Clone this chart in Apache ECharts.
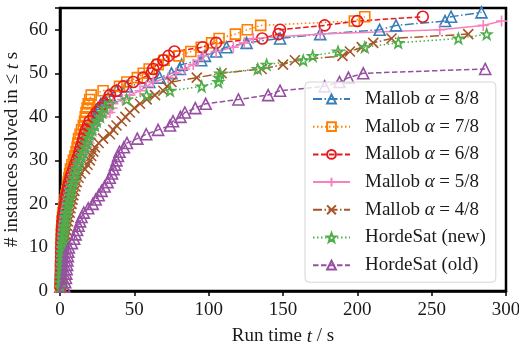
<!DOCTYPE html>
<html>
<head>
<meta charset="utf-8">
<script src="https://cdn.jsdelivr.net/npm/echarts@6/dist/echarts.min.js"></script>
<style>
  html, body { margin: 0; padding: 0; background: #fff; }
  #chart { width: 519px; height: 347px; }
</style>
</head>
<body>
<div id="chart"></div>
<script>
// run times (s) of the solved instances, sorted; the k-th value is solved instance number k
const mallob88 = [0.3, 0.4, 0.5, 0.6, 0.6, 0.7, 0.8, 0.8, 0.9, 1.0,
  1.1, 1.2, 1.3, 1.5, 1.7, 2.0, 2.3, 2.7, 3.2, 3.7,
  4.3, 5.0, 5.6, 6.3, 7.0, 7.8, 8.6, 9.5, 10.5, 11.5,
  12.5, 13.5, 14.5, 15.5, 16.5, 17.5, 18.5, 19.5, 20.5, 22.0,
  23.5, 25.5, 27.5, 30.0, 33.6, 38.0, 45.0, 60.0, 67.0, 75.0,
  80.7, 81.8, 95.0, 97.5, 105.0, 112.0, 125.5, 148.0, 175.0, 215.0, 226.0, 259.0, 263.0, 283.5]
const mallob78 = [0.3, 0.4, 0.5, 0.5, 0.6, 0.6, 0.7, 0.7, 0.8, 0.8,
  0.9, 1.0, 1.0, 1.1, 1.2, 1.4, 1.7, 2.0, 2.5, 3.0,
  3.5, 4.0, 4.5, 5.0, 5.5, 6.0, 6.5, 7.0, 8.0, 9.0,
  10.0, 10.8, 11.5, 12.0, 12.5, 13.5, 14.5, 15.7, 16.5, 17.0,
  17.5, 18.2, 19.0, 20.0, 21.0, 29.0, 40.0, 45.0, 52.0, 56.0,
  60.0, 66.0, 70.0, 80.0, 88.0, 95.0, 102.0, 107.0, 118.0, 126.0, 135.0, 198.0, 205.0]
const mallob68 = [0.3, 0.4, 0.5, 0.5, 0.6, 0.6, 0.7, 0.8, 0.8, 0.9,
  1.0, 1.1, 1.2, 1.3, 1.5, 1.7, 2.0, 2.4, 2.8, 3.3,
  3.8, 4.3, 5.0, 5.5, 6.2, 7.0, 8.0, 9.0, 10.0, 11.2,
  12.3, 13.0, 14.0, 15.0, 15.7, 16.5, 17.5, 18.8, 20.0, 22.5,
  24.7, 27.0, 30.0, 32.5, 33.6, 38.0, 42.6, 49.3, 56.0, 61.6,
  62.7, 65.0, 69.5, 73.0, 77.0, 96.0, 105.0, 136.0, 147.0, 148.0, 178.0, 200.0, 244.0]
const mallob58 = [0.4, 0.5, 0.6, 0.7, 0.8, 0.9, 1.0, 1.1, 1.2, 1.4,
  1.6, 1.8, 2.0, 2.3, 2.6, 3.0, 3.4, 3.9, 4.4, 5.0,
  5.6, 6.3, 7.0, 7.8, 8.6, 9.5, 10.5, 11.5, 12.5, 13.5,
  15.0, 16.5, 18.0, 19.5, 20.5, 21.3, 22.5, 23.8, 26.0, 29.0,
  33.6, 35.0, 35.7, 42.0, 47.0, 53.8, 58.0, 62.7, 72.8, 78.0,
  84.0, 89.6, 93.0, 96.3, 105.0, 116.6, 124.0, 130.0, 175.0, 255.5, 284.7, 297.0]
const mallob48 = [0.6, 0.7, 0.8, 1.0, 1.2, 1.4, 1.6, 1.9, 2.2, 2.6,
  3.0, 3.4, 3.8, 4.3, 4.8, 5.3, 5.9, 6.5, 7.1, 7.8,
  8.4, 9.0, 9.7, 10.4, 11.2, 12.5, 14.0, 16.8, 18.5, 20.0,
  21.0, 22.4, 23.5, 26.0, 29.0, 33.6, 35.8, 38.0, 41.5, 44.0,
  47.0, 50.0, 53.8, 58.3, 63.9, 69.5, 72.0, 75.0, 92.0, 108.7,
  135.6, 150.0, 158.0, 190.0, 195.0, 203.0, 210.7, 223.0, 274.6]
const hordeNew = [0.5, 0.6, 0.7, 0.8, 0.9, 1.0, 1.1, 1.2, 1.3, 1.5,
  1.7, 2.0, 2.3, 2.7, 3.0, 3.4, 3.8, 4.3, 4.9, 5.5,
  6.0, 6.6, 7.2, 7.9, 8.6, 9.4, 10.2, 11.0, 12.2, 13.4,
  14.5, 15.7, 17.0, 18.0, 19.0, 20.0, 21.7, 23.5, 24.7, 27.0,
  28.5, 30.0, 33.6, 44.8, 58.3, 74.0, 95.3, 106.5, 107.0, 107.6,
  133.0, 139.0, 163.6, 170.0, 187.0, 205.0, 227.5, 268.0, 287.0]
const hordeOld = [3.0, 3.5, 4.0, 4.2, 4.5, 4.8, 5.0, 5.3, 5.6, 6.0,
  8.0, 9.5, 10.5, 11.5, 12.5, 13.5, 14.5, 16.0, 19.0, 22.0,
  24.0, 26.0, 28.0, 30.0, 32.0, 33.5, 35.0, 36.0, 37.0, 38.0,
  39.0, 40.0, 43.0, 45.0, 52.0, 58.0, 66.0, 74.0, 76.0, 81.0,
  84.0, 91.0, 98.0, 120.0, 140.0, 148.0, 178.0, 188.0, 194.0, 204.0, 286.0]

const xTicks = [0, 50, 100, 150, 200, 250, 300]
const yTicks = [0, 10, 20, 30, 40, 50, 60]

const names = ['Mallob α = 8/8', 'Mallob α = 7/8', 'Mallob α = 6/8', 'Mallob α = 5/8',
  'Mallob α = 4/8', 'HordeSat (new)', 'HordeSat (old)']
const colors = ['#377eb8', '#ff7f00', '#e41a1c', '#f781bf', '#a65628', '#4daf4a', '#984ea3']

const FONT = 'Liberation Serif'
const FS = 19
const TXT = '#1a1a1a'
const plusPath = 'path://M0,5L10,5M5,0L5,10'
const crossPath = 'path://M0,0L10,10M10,0L0,10'
const starPath = 'path://M10,0L12.35,6.76L19.51,6.91L13.8,11.24L15.88,18.09L10,14L4.12,18.09L6.2,11.24L0.49,6.91L7.65,6.76Z'

const dashdot = [9, 2.5, 1.5, 2.5]
const dotted = [1.5, 2.5]
const dashed = [5.5, 2.5]

let runs = [
  { times: mallob88, symbol: 'triangle', size: 11, dash: dashdot },
  { times: mallob78, symbol: 'rect', size: 10, dash: dotted },
  { times: mallob68, symbol: 'circle', size: 11, dash: dashed },
  { times: mallob58, symbol: plusPath, size: 11, dash: 'solid' },
  { times: mallob48, symbol: crossPath, size: 10, dash: dashdot },
  { times: hordeNew, symbol: starPath, size: 10, dash: dotted },
  { times: hordeOld, symbol: 'triangle', size: 11, dash: dashed },
]

let series = runs.map((r, i) => ({
  name: names[i],
  type: 'line',
  data: r.times.map((t, k) => [t, k + 1]),
  symbol: r.symbol,
  symbolSize: r.size,
  showAllSymbol: true,
  animation: false,
  lineStyle: { color: colors[i], width: 1.5, type: r.dash },
  itemStyle: { color: 'rgba(255,255,255,0)', borderColor: colors[i], borderWidth: 1.6 },
  emphasis: { disabled: true },
}))

function legendLabel(name) {
  if (name.indexOf('α') < 0) return '{n|' + name + '}'
  let parts = name.split('α')
  return '{n|' + parts[0] + '}{i|α}{n|' + parts[1] + '}'
}

let chart = echarts.init(document.getElementById('chart'), null, { renderer: 'canvas' })
let option = {
  backgroundColor: '#fff',
  animation: false,
  grid: {
    left: 60, right: 13, top: 8, bottom: 56,
    outerBoundsMode: 'none', containLabel: false,
    show: true, borderColor: '#000', borderWidth: 2.5, backgroundColor: 'transparent'
  },
  xAxis: {
    type: 'value', min: xTicks[0], max: xTicks[xTicks.length - 1], interval: 50,
    name: 'Run time {i|t} / s', nameLocation: 'middle', nameGap: 36, nameMoveOverlap: false,
    nameTextStyle: {
      fontFamily: FONT, fontSize: FS, color: TXT,
      rich: { i: { fontFamily: FONT, fontSize: FS, fontStyle: 'italic', color: TXT } }
    },
    axisLine: { lineStyle: { color: '#000', width: 2.5 } },
    axisTick: { show: true, inside: false, length: 5, lineStyle: { color: '#000', width: 1.5 } },
    axisLabel: { fontFamily: FONT, fontSize: FS, color: TXT, margin: 10 },
    splitLine: { show: false }
  },
  yAxis: {
    type: 'value', min: yTicks[0], max: 65, interval: 10,
    name: '# instances solved in ≤ {i|t} s', nameLocation: 'middle', nameGap: 38, nameMoveOverlap: false,
    nameTextStyle: {
      fontFamily: FONT, fontSize: FS, color: TXT,
      rich: { i: { fontFamily: FONT, fontSize: FS, fontStyle: 'italic', color: TXT } }
    },
    axisLine: { show: true, lineStyle: { color: '#000', width: 2.5 } },
    axisTick: { show: true, inside: false, length: 5, lineStyle: { color: '#000', width: 1.5 } },
    axisLabel: { fontFamily: FONT, fontSize: FS, color: TXT, margin: 12,
      formatter: v => (yTicks.indexOf(v) >= 0 ? String(v) : '') },
    splitLine: { show: false }
  },
  legend: {
    orient: 'vertical', left: 305, top: 82,
    padding: [7, 10, 7, 7],
    itemWidth: 37, itemHeight: 11, itemGap: 7.7,
    backgroundColor: 'rgba(255,255,255,0.8)', borderColor: '#d4d4d4', borderWidth: 1, borderRadius: 4,
    data: names,
    formatter: legendLabel,
    textStyle: {
      fontFamily: FONT, fontSize: FS, color: TXT, lineHeight: 20, padding: [0, 0, 0, 10],
      rich: {
        n: { fontFamily: FONT, fontSize: FS, color: TXT, lineHeight: 20 },
        i: { fontFamily: FONT, fontSize: FS, color: TXT, fontStyle: 'italic', lineHeight: 20 }
      }
    }
  },
  series: series
}
option && chart.setOption(option)
</script>
</body>
</html>
